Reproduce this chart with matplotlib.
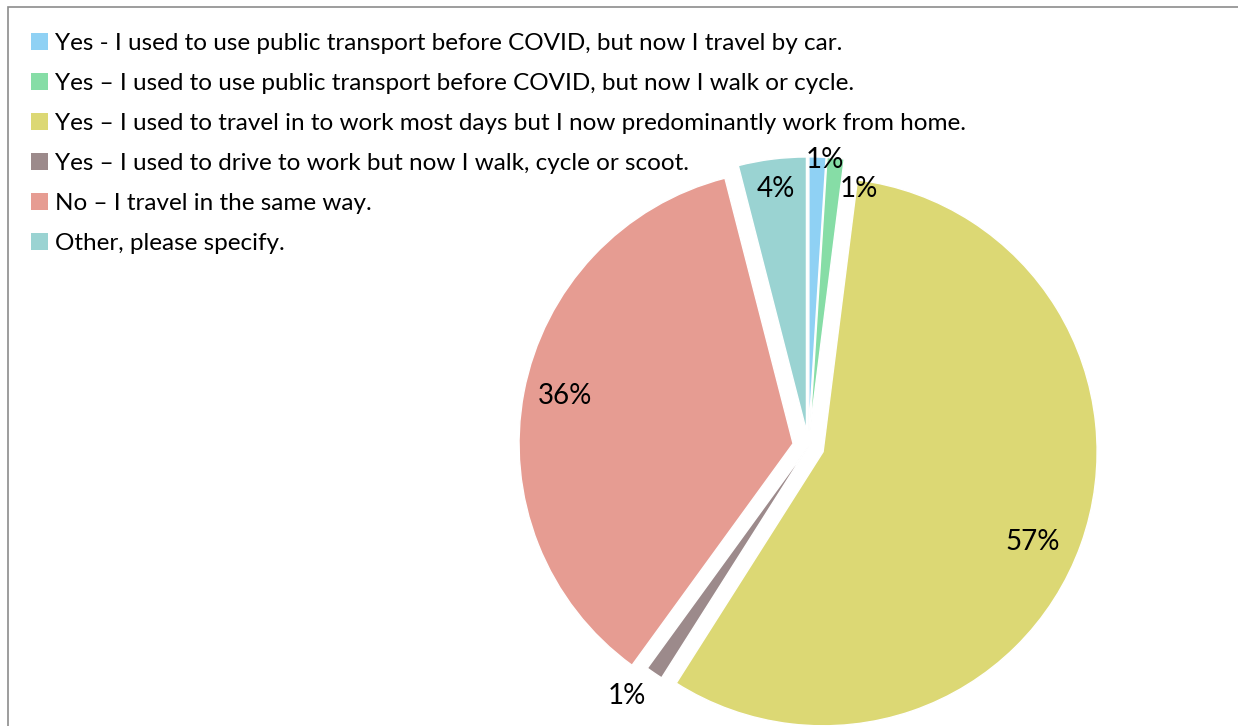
import matplotlib.pyplot as plt
import matplotlib.patches as mpatches
import numpy as np

labels = [
    "Yes - I used to use public transport before COVID, but now I travel by car.",
    "Yes \u2013 I used to use public transport before COVID, but now I walk or cycle.",
    "Yes \u2013 I used to travel in to work most days but I now predominantly work from home.",
    "Yes \u2013 I used to drive to work but now I walk, cycle or scoot.",
    "No \u2013 I travel in the same way.",
    "Other, please specify.",
]
shares = [1, 1, 57, 1, 36, 4]
colors = ["#8FD1F4", "#86DDA6", "#DCD874", "#9C8A8B", "#E69C92", "#9AD3D2"]
explode = [0.057, 0.057, 0.057, 0.0, 0.057, 0.057]
# where each percentage sits, as a fraction of the radius, plus a small angle nudge
label_dist = [1.0, 0.91, 0.83, 1.12, 0.85, 0.9]
label_nudge = [-1.5, -6, -3, -2, -1.5, 0]

plt.rcParams["font.family"] = ["Lato", "DejaVu Sans"]

W, H = 1238, 726
fig = plt.figure(figsize=(W / 100, H / 100), dpi=100)

# pie centre and radius in pixels
cx, cy, r = 808.4, 446.5, 274
half = 1.2 * r
ax = fig.add_axes([(cx - half) / W, (H - cy - half) / H, 2 * half / W, 2 * half / H])

wedges, _ = ax.pie(shares, colors=colors, explode=explode, startangle=90,
                   counterclock=False,
                   wedgeprops=dict(edgecolor="white", linewidth=1))
ax.set_xlim(-1.2, 1.2)
ax.set_ylim(-1.2, 1.2)
ax.set_aspect("equal")
ax.axis("off")

for w, v, d, nudge in zip(wedges, shares, label_dist, label_nudge):
    mid = np.deg2rad((w.theta1 + w.theta2) / 2 + nudge)
    x0, y0 = w.center
    ax.text(x0 + d * np.cos(mid), y0 + d * np.sin(mid) - 0.008, f"{v:.0f}%",
            ha="center", va="center", fontsize=20, color="black")

leg = fig.legend(wedges, labels, loc="upper left",
                 bbox_to_anchor=(21 / W, 1 - 23 / H), frameon=False,
                 fontsize=17.5, handlelength=0.7, handleheight=0.7,
                 handletextpad=0.28, labelspacing=0.785, borderaxespad=0)
for h in leg.legend_handles:
    h.set_edgecolor("none")

# chart area border (only top and left edges fall inside the image)
fig.patches.append(mpatches.Rectangle((8 / W, -0.1), 1.2, 1 - 7 / H + 0.1,
                                      transform=fig.transFigure, fill=False,
                                      edgecolor="#8C8C8C", linewidth=1.2))

fig.savefig("out.png", dpi=100, facecolor="white")
